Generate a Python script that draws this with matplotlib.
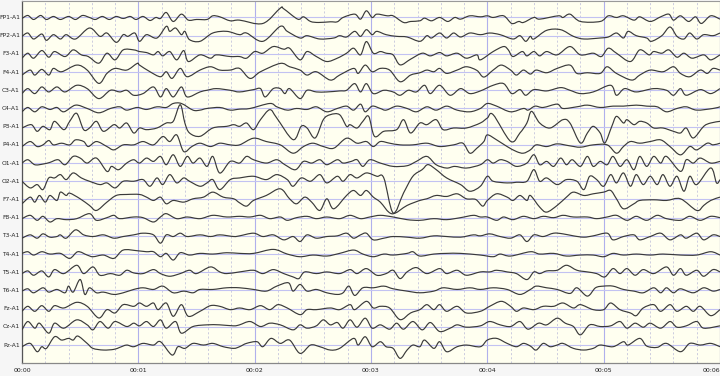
import numpy as np
import matplotlib.pyplot as plt
from matplotlib.path import Path
from matplotlib.patches import PathPatch

# EEG page, 19 referential channels, time in centiseconds, amplitude in trace units
channels = ["FP1-A1", "FP2-A1", "F3-A1", "F4-A1", "C3-A1", "C4-A1", "P3-A1", "P4-A1",
            "O1-A1", "O2-A1", "F7-A1", "F8-A1", "T3-A1", "T4-A1", "T5-A1", "T6-A1",
            "Fz-A1", "Cz-A1", "Pz-A1"]
second_ticks = [0, 100, 200, 300, 400, 500, 600]
second_labels = ["00:00", "00:01", "00:02", "00:03", "00:04", "00:05", "00:06"]

FP1 = [(0,-3),(5,6),(10,-6),(16,6),(21,-6),(27,3),(33,-6),(40,3),(46,-6),(52,6),(58,0),(63,-6),
       (69,3),(75,-6),(81,3),(87,-3),(93,3),(98,-6),(104,3),(110,-9),(115,0),(119,-3),(124,15),
       (130,-12),(137,10),(143,-8),(150,-6),(159,-6),(164,5),(170,2),(179,-10),(187,-8),(207,-18),
       (222,28),(225,26),(237,-5),(242,2),(248,-12),(255,-15),(265,-13),(271,-13),(276,0),(286,10),
       (291,-5),(296,20),(301,0),(305,10),(314,5),(319,5),(328,-15),(334,-12),(342,-10),(346,-2),
       (352,-10),(359,0),(366,-12),(372,0),(377,-5),(385,5),(394,2),(400,5),(405,0),(414,5),
       (421,-18),(427,-12),(431,-15),(440,0),(445,-5),(461,5),(465,0),(471,10),(480,-12),(497,-12),
       (504,5),(511,0),(517,5),(526,-8),(531,2),(540,-12),(549,2),(556,10),(560,-8),(566,5),
       (573,-12),(579,2),(584,-18),(592,5),(600,-5)]
FP2 = [(0,-2),(5,8),(10,-10),(17,5),(21,-14),(27,3),(33,-10),(38,3),(46,-10),(58,23),(67,-2),
       (73,8),(81,-20),(87,3),(91,-2),(97,8),(101,-17),(107,3),(116,-7),(124,28),(127,13),
       (132,23),(137,3),(140,13),(144,-12),(153,-17),(164,8),(176,13),(187,3),(193,8),(207,-17),
       (222,28),(228,13),(239,-7),(245,0),(256,-10),(268,-7),(273,0),(279,-4),(286,13),(291,-2),
       (296,18),(301,3),(305,13),(313,3),(322,-2),(331,-4),(342,-17),(348,0),(352,-7),(359,8),
       (365,-7),(371,8),(377,-4),(385,8),(394,3),(402,8),(411,3),(422,-10),(428,0),(433,-17),
       (437,-2),(440,-10),(451,16),(463,18),(474,-2),(483,-10),(497,-7),(504,-4),(511,8),
       (517,-7),(521,13),(528,0),(537,-7),(541,-17),(550,0),(557,26),(563,-2),(569,-10),(574,8),
       (580,-10),(586,3),(594,0),(600,8)]
F3 = [(0,-13),(5,2),(10,-13),(17,10),(23,-10),(28,7),(37,-8),(44,12),(51,-3),(57,-8),(66,-28),
      (73,2),(80,-18),(87,12),(96,12),(101,7),(107,4),(113,-3),(117,7),(121,-6),(127,7),(133,-18),
      (139,10),(143,-23),(153,-3),(162,-13),(167,-3),(179,-8),(187,-8),(193,-13),(200,7),(207,2),
      (216,22),(225,14),(230,17),(239,-18),(245,7),(253,-8),(262,-23),(271,-13),(279,2),(285,17),
      (291,-3),(296,37),(302,2),(308,7),(313,2),(319,-3),(325,-33),(334,-16),(344,2),(351,-6),
      (359,4),(365,-6),(374,2),(382,-13),(391,-3),(394,-18),(405,7),(414,22),(418,12),(422,-8),
      (430,7),(434,-6),(440,7),(445,-6),(451,7),(460,-3),(471,22),(480,-3),(491,2),(498,-8),
      (504,17),(511,2),(523,-23),(531,12),(539,-3),(543,7),(550,2),(556,12),(563,-10),(569,2),
      (576,-13),(586,-3),(592,-18),(600,-3)]
F4 = [(0,-9),(7,6),(11,-9),(17,8),(23,-9),(27,11),(34,1),(47,21),(56,6),(66,-34),(73,-4),(80,11),
      (90,6),(99,26),(101,21),(110,1),(119,-14),(124,1),(129,-19),(136,11),(142,-14),(153,6),
      (162,16),(170,6),(179,6),(187,11),(196,-19),(205,1),(222,26),(230,16),(239,6),(245,-9),
      (253,1),(265,-24),(273,-9),(285,11),(289,-4),(295,21),(301,1),(308,11),(316,6),(325,-29),
      (334,-9),(342,-2),(348,6),(354,1),(359,11),(365,-4),(374,6),(382,16),(391,5),(397,-15),
      (405,6),(412,21),(420,6),(425,-9),(431,6),(437,-6),(442,6),(451,-2),(460,11),(471,21),
      (477,-4),(486,-2),(497,-4),(503,16),(511,-4),(524,-24),(531,-9),(540,6),(551,1),(560,16),
      (566,-4),(574,-14),(583,6),(589,-4),(594,11),(600,6)]
C3 = [(0,-10),(5,5),(11,-10),(17,10),(23,-5),(30,10),(37,-5),(47,15),(56,5),(66,-25),(76,0),
      (84,-5),(90,0),(96,-15),(104,-10),(113,10),(119,-20),(124,5),(130,-20),(137,10),(142,-20),
      (153,-5),(159,0),(167,5),(179,0),(187,-5),(199,2),(205,5),(209,-20),(216,5),(222,5),
      (226,-10),(230,5),(239,-25),(245,0),(253,-5),(262,-5),(273,-2),(279,0),(286,20),(291,-5),
      (296,20),(302,-10),(311,0),(319,-5),(325,-15),(332,0),(339,-5),(346,15),(351,-10),(359,15),
      (368,-15),(377,5),(385,-10),(394,-2),(405,15),(414,20),(421,-10),(428,2),(433,-15),(440,2),
      (451,-2),(463,8),(471,0),(480,-10),(491,-5),(506,15),(511,-15),(518,5),(528,-5),(543,5),
      (554,0),(560,-15),(566,5),(571,-15),(583,2),(592,-10),(600,5)]
C4 = [(0,-10),(5,3),(11,-10),(17,5),(24,-3),(30,3),(36,-10),(46,10),(56,0),(66,-13),(76,0),
      (84,5),(90,-5),(99,3),(107,-3),(116,5),(124,3),(130,15),(137,15),(147,-5),(153,-5),(159,0),
      (170,3),(179,-5),(187,-2),(196,0),(213,15),(219,5),(228,-5),(236,0),(245,-3),(253,5),
      (262,-10),(271,0),(279,7),(285,-5),(291,13),(295,-10),(301,7),(308,0),(313,-5),(322,7),
      (331,0),(339,-10),(348,5),(356,-5),(365,7),(374,-5),(385,-10),(394,0),(400,15),(408,7),
      (420,-10),(431,0),(435,-5),(441,7),(448,3),(460,13),(465,0),(477,5),(486,10),(497,3),
      (508,7),(517,7),(528,10),(537,7),(546,5),(554,-10),(563,0),(571,5),(580,-5),(594,0),(600,5)]
P3 = [(0,-4),(8,6),(13,-14),(18,1),(24,-9),(28,16),(36,-9),(41,16),(47,40),(53,-9),(58,-4),
      (64,16),(70,-14),(79,6),(84,-4),(90,11),(96,-19),(101,-4),(107,-9),(116,-4),(124,11),
      (130,16),(136,66),(140,11),(144,-19),(153,-29),(164,-4),(176,1),(182,6),(187,1),(193,11),
      (199,-9),(205,21),(213,51),(219,26),(233,-39),(240,1),(245,-4),(252,-34),(259,21),(265,36),
      (273,36),(279,1),(282,6),(288,-4),(293,16),(298,31),(303,-29),(311,-14),(322,-9),(328,21),
      (334,-19),(342,11),(348,6),(356,21),(362,-9),(371,-4),(382,-4),(394,11),(400,26),(405,36),
      (420,-44),(428,-19),(434,11),(438,46),(445,11),(454,-4),(465,21),(471,11),(480,-49),
      (486,-19),(491,1),(497,-19),(501,-49),(507,1),(511,31),(517,11),(520,21),(526,6),(531,16),
      (537,11),(543,-4),(551,-4),(560,-14),(566,-19),(571,-4),(577,-34),(586,1),(592,11),(600,16)]
P4 = [(0,-5),(7,10),(13,-5),(18,0),(23,13),(27,0),(34,5),(41,0),(46,15),(53,10),(57,-5),(64,10),
      (73,-5),(79,-15),(87,0),(96,0),(104,10),(113,0),(121,25),(127,10),(133,30),(139,-20),
      (146,-5),(153,5),(162,-5),(170,5),(179,0),(187,0),(199,20),(210,10),(222,0),(233,-25),
      (242,-5),(250,5),(259,-5),(268,-10),(279,20),(288,5),(296,10),(302,-5),(308,10),(316,5),
      (325,0),(336,0),(348,5),(359,-5),(371,0),(379,5),(385,-25),(391,-10),(397,10),(400,30),
      (408,15),(417,-5),(425,-20),(431,-25),(437,-15),(442,0),(451,-5),(460,3),(471,-3),(480,-7),
      (491,0),(503,0),(511,-25),(517,-5),(523,10),(531,5),(540,10),(549,15),(557,-5),(566,-30),
      (574,-5),(580,-15),(589,5),(594,0),(600,5)]
O1 = [(0,0),(5,10),(11,-5),(18,-3),(24,2),(31,10),(37,-5),(44,20),(50,15),(56,0),(64,15),(73,-25),
      (77,-10),(83,-20),(90,0),(96,10),(101,0),(107,15),(113,5),(119,20),(124,-5),(130,25),
      (136,-10),(142,20),(147,0),(153,15),(159,-10),(164,20),(170,-30),(179,5),(187,0),(193,20),
      (199,10),(210,0),(219,10),(226,-5),(235,-20),(242,5),(249,0),(256,10),(262,-5),(271,10),
      (276,0),(283,5),(288,10),(293,-10),(299,10),(308,0),(319,-10),(331,-8),(339,5),(348,20),
      (356,-5),(365,-15),(372,-10),(382,-15),(394,-5),(400,10),(405,0),(411,10),(417,5),(425,-10),
      (434,0),(440,25),(445,-5),(451,5),(457,-10),(463,15),(468,-5),(473,10),(480,-10),(486,20),
      (491,-10),(497,5),(503,-5),(508,20),(514,-10),(520,10),(526,-20),(531,20),(537,-10),
      (543,20),(549,0),(554,20),(566,-25),(571,10),(577,0),(583,15),(592,0),(600,5)]
O2 = [(0,0),(7,-20),(13,-10),(18,-25),(23,10),(28,10),(33,20),(38,5),(44,25),(51,10),(58,0),
      (67,-10),(73,-5),(80,-20),(87,0),(96,0),(104,5),(110,-15),(116,10),(121,-10),(127,20),
      (133,-5),(139,10),(144,0),(153,-15),(159,-5),(164,5),(170,-25),(179,5),(187,10),(199,15),
      (210,5),(219,20),(228,5),(233,-15),(240,10),(248,0),(256,20),(262,-5),(271,15),(276,0),
      (282,20),(288,10),(296,25),(305,15),(311,10),(319,-95),(328,-35),(336,15),(344,35),(349,50),
      (356,35),(365,10),(377,-10),(385,-30),(394,-15),(400,15),(405,0),(417,-5),(425,-3),(434,0),
      (440,35),(445,0),(451,10),(460,-10),(468,5),(477,0),(483,-25),(488,15),(494,5),(500,-15),
      (506,20),(511,-5),(517,25),(523,-15),(528,20),(534,-10),(540,15),(546,-10),(551,20),
      (557,-15),(563,15),(569,-30),(574,15),(580,-10),(592,40),(597,-5),(600,5)]
F7 = [(0,-13),(7,7),(11,-8),(15,12),(20,-8),(24,12),(30,-3),(33,22),(38,12),(41,19),(50,2),
      (58,-18),(64,-33),(73,-8),(81,12),(90,15),(101,15),(107,7),(113,-3),(119,7),(124,-13),
      (130,-3),(139,-8),(147,2),(156,7),(164,22),(173,7),(182,2),(187,-10),(193,-20),(199,-3),
      (210,12),(222,32),(230,2),(236,-13),(243,7),(249,-8),(256,-33),(262,2),(268,-28),(279,12),
      (285,27),(291,12),(296,27),(302,7),(308,-8),(318,-43),(331,-18),(342,-3),(348,2),(356,12),
      (365,9),(374,17),(382,2),(390,0),(396,-20),(400,-3),(408,17),(417,7),(422,-3),(428,12),
      (434,-3),(437,12),(445,-23),(451,-38),(460,-18),(468,7),(474,22),(483,12),(491,17),(500,22),
      (506,27),(511,2),(517,-28),(526,-13),(531,-3),(543,-1),(554,-3),(566,2),(580,-33),(586,-18),
      (592,-3),(600,7)]
F8 = [(0,-3),(7,7),(13,-8),(18,4),(24,-13),(30,-3),(38,-6),(47,-3),(58,12),(64,-8),(73,0),(79,7),
      (84,-3),(96,2),(104,0),(113,-13),(119,2),(124,12),(133,-3),(142,2),(153,-3),(164,7),(176,2),
      (187,4),(196,2),(205,7),(213,-3),(222,2),(228,-8),(236,0),(245,4),(253,-3),(262,2),(273,-3),
      (282,7),(291,-3),(299,2),(308,7),(319,2),(331,-6),(342,-8),(354,-3),(365,-6),(377,0),
      (388,7),(394,2),(400,2),(408,-8),(414,2),(422,-6),(431,4),(440,-3),(448,4),(457,0),(465,7),
      (474,2),(486,2),(494,-3),(503,2),(511,7),(520,-8),(528,4),(537,-8),(546,7),(554,-3),
      (566,-8),(574,4),(583,-8),(592,4),(600,0)]
T3 = [(0,-7),(7,3),(13,-7),(18,6),(24,-4),(30,-2),(33,3),(38,-7),(46,18),(53,3),(61,-2),(70,3),
      (79,-7),(87,-2),(96,3),(104,8),(113,3),(119,-22),(124,3),(130,-2),(136,8),(142,-2),(153,3),
      (162,-2),(170,3),(182,-2),(187,0),(199,8),(207,-2),(216,3),(225,-12),(233,-2),(239,-17),
      (245,3),(253,-7),(262,-2),(271,0),(279,8),(285,-7),(291,3),(296,8),(302,-12),(311,-7),
      (319,-2),(331,-4),(342,-7),(354,0),(365,-2),(377,-4),(388,3),(394,0),(402,6),(411,-2),
      (420,-7),(428,3),(434,-17),(440,3),(448,-2),(457,8),(465,6),(474,0),(483,-4),(491,0),
      (503,8),(508,-12),(517,-2),(526,3),(531,-12),(540,-2),(549,8),(557,-12),(566,3),(571,-7),
      (580,8),(586,-12),(594,3),(600,-2)]
T4 = [(0,2),(5,7),(10,-3),(17,7),(24,0),(33,2),(41,-13),(48,7),(56,-3),(61,-8),(70,-3),(79,-13),
      (87,12),(99,10),(107,7),(113,7),(119,-8),(124,2),(130,-18),(136,4),(144,-3),(153,2),(164,0),
      (176,4),(187,2),(199,2),(216,14),(228,0),(239,-8),(250,-3),(262,-6),(273,2),(285,12),
      (293,0),(302,-8),(311,0),(319,-3),(331,2),(336,7),(342,-6),(354,0),(365,2),(377,2),
      (394,-3),(405,-8),(411,0),(420,-6),(437,7),(445,0),(457,2),(468,-6),(480,-3),(491,-3),
      (500,-8),(508,2),(517,-3),(528,0),(540,-3),(551,0),(566,-3),(580,-3),(592,7),(600,-3)]
T5 = [(0,-4),(5,4),(10,-9),(17,4),(23,-14),(28,8),(36,-4),(47,21),(53,-4),(61,16),(67,-9),
      (76,-4),(84,-9),(90,6),(96,-2),(104,-4),(113,8),(119,-4),(127,-12),(136,-4),(144,6),
      (150,-4),(162,16),(170,1),(176,-4),(187,1),(199,6),(207,-4),(216,8),(225,-4),(233,-14),
      (238,-19),(243,1),(253,-4),(262,1),(273,-4),(282,8),(288,-4),(296,11),(305,-9),(313,-4),
      (319,6),(325,-19),(331,1),(339,14),(348,-4),(359,11),(365,-4),(374,6),(382,-9),(394,1),
      (402,1),(408,6),(417,1),(425,-4),(434,-22),(440,1),(445,-4),(451,4),(460,6),(468,21),
      (477,6),(486,1),(494,-4),(501,-14),(508,11),(514,-4),(520,11),(527,-9),(534,8),(543,-4),
      (554,16),(560,-9),(566,11),(571,-9),(580,6),(586,-12),(594,8),(600,1)]
T6 = [(0,-2),(5,5),(10,-7),(18,8),(23,-5),(30,3),(37,-7),(40,13),(44,-5),(50,33),(54,-12),(58,8),
      (64,-7),(70,-5),(79,-12),(87,-7),(96,3),(104,8),(113,3),(121,13),(130,-7),(139,-2),(147,-7),
      (153,3),(164,3),(176,8),(187,8),(199,3),(210,-2),(219,13),(229,23),(233,-2),(239,18),
      (245,-2),(253,3),(262,-7),(271,-12),(276,-7),(281,13),(286,-15),(293,8),(302,8),(311,13),
      (319,5),(331,-2),(342,-7),(354,-2),(362,8),(374,3),(385,8),(394,3),(405,8),(417,3),
      (428,-12),(437,3),(442,13),(451,8),(460,3),(471,-9),(477,8),(486,-17),(493,8),(500,13),
      (508,13),(517,3),(526,-2),(534,-7),(543,8),(549,-7),(554,8),(560,-7),(566,5),(577,-7),
      (586,8),(594,-2),(600,3)]
Fz = [(0,-8),(5,7),(11,-8),(17,9),(23,-8),(28,9),(36,2),(47,19),(56,7),(66,-28),(73,-3),(80,-13),
      (87,12),(96,7),(101,17),(107,7),(113,17),(117,-3),(124,17),(130,-23),(137,12),(143,-23),
      (153,-8),(162,9),(170,7),(179,-3),(187,2),(196,-3),(205,9),(213,-3),(220,12),(228,2),
      (239,-18),(245,-3),(253,-3),(265,2),(273,-3),(282,12),(286,-3),(296,22),(302,2),(308,7),
      (316,2),(325,-33),(334,-13),(342,-3),(348,12),(354,-3),(359,12),(365,-8),(374,7),(382,-13),
      (394,-8),(402,7),(412,22),(420,7),(425,-8),(431,2),(440,-3),(448,7),(457,7),(465,17),
      (474,2),(480,12),(491,-3),(500,-3),(506,17),(514,-3),(523,-13),(528,-21),(534,2),(543,12),
      (549,-8),(557,12),(563,-8),(571,7),(577,-8),(583,7),(592,-21),(600,-3)]
Cz = [(0,-9),(5,16),(11,-4),(15,11),(23,-19),(28,11),(36,-4),(47,21),(56,6),(61,-9),(67,16),
      (74,-4),(80,16),(90,1),(96,11),(101,3),(107,16),(113,1),(119,21),(124,-4),(132,16),(137,-19),
      (147,1),(159,6),(170,6),(182,3),(187,6),(196,16),(205,1),(213,11),(222,6),(233,-9),(239,6),
      (245,-4),(253,3),(259,21),(265,6),(271,13),(276,-4),(282,21),(288,-1),(295,26),(301,-4),
      (308,6),(316,-7),(322,11),(328,-7),(336,16),(344,-9),(351,13),(359,-14),(368,-4),(374,6),
      (382,-1),(394,3),(402,16),(411,6),(420,1),(428,16),(435,-7),(444,11),(451,6),(460,26),
      (467,11),(474,1),(480,-24),(488,6),(497,1),(506,3),(514,16),(520,-4),(527,11),(534,-1),
      (540,11),(549,-4),(557,16),(563,-1),(571,3),(580,16),(586,-4),(600,3)]
Pz = [(0,-5),(7,5),(13,-20),(17,-5),(21,-10),(28,25),(34,15),(40,20),(44,15),(48,27),(56,5),
      (61,-10),(70,-15),(79,-13),(84,-7),(90,0),(96,-5),(104,5),(113,0),(119,10),(129,-30),
      (134,-5),(140,-10),(147,5),(156,0),(164,5),(173,-5),(182,-10),(187,-5),(193,5),(202,10),
      (207,-5),(214,20),(222,5),(230,15),(239,-25),(248,0),(256,-5),(265,-15),(273,-10),(285,20),
      (289,0),(295,25),(301,-5),(308,10),(313,-5),(319,-10),(325,-40),(331,-15),(336,0),(342,-5),
      (346,15),(354,-10),(359,10),(365,-20),(374,-5),(382,0),(394,-5),(400,15),(408,20),(417,5),
      (425,-5),(431,5),(437,-3),(442,-15),(448,5),(454,-5),(460,0),(465,5),(474,-10),(483,-15),
      (491,-10),(497,0),(508,-5),(517,10),(521,0),(531,20),(537,-3),(546,-7),(554,5),(566,-20),
      (574,5),(583,0),(592,5),(600,-5)]

traces = [FP1, FP2, F3, F4, C3, C4, P3, P4, O1, O2, F7, F8, T3, T4, T5, T6, Fz, Cz, Pz]
spacing = 54.67


def smooth_path(t, y):
    # cubic Bezier pieces through every sample (Catmull-Rom tangents)
    pts = np.column_stack([t, y])
    ext = np.vstack([pts[0], pts, pts[-1]])
    verts = [pts[0]]
    codes = [Path.MOVETO]
    for k in range(1, len(ext) - 2):
        p0, p1, p2, p3 = ext[k - 1], ext[k], ext[k + 1], ext[k + 2]
        verts += [p1 + (p2 - p0) / 6, p2 - (p3 - p1) / 6, p2]
        codes += [Path.CURVE4] * 3
    return Path(verts, codes)


fig = plt.figure(figsize=(7.2, 3.76), dpi=100, facecolor="#f6f6f6")
ax = fig.add_axes([22 / 720, 13 / 376, 698 / 720, 362.5 / 376])
ax.set_facecolor("#fffff0")

# 0.2 s dashed grid and 1 s solid grid
for t in range(0, 601, 20):
    if t % 100 == 0:
        ax.axvline(t, color="#b0b0ec", lw=0.8, zorder=1)
    else:
        ax.axvline(t, color="#c4c4dc", lw=0.6, ls=(0, (2.5, 2.5)), zorder=1)

for i, (name, tr) in enumerate(zip(channels, traces)):
    t, v = np.array(tr, dtype=float).T
    base = -i * spacing
    ax.axhline(base, color="#c2c2f2", lw=0.8, zorder=1)
    ax.add_patch(PathPatch(smooth_path(t, base + v), fill=False, edgecolor="#3a3a3a",
                           lw=0.85, zorder=3, joinstyle="round"))
    ax.text(-0.003, base, name, transform=ax.get_yaxis_transform(),
            ha="right", va="center", fontsize=4.3, color="#222222")

ax.set_xlim(0, 600)
ax.set_ylim(-1038, 51)
ax.set_xticks(second_ticks)
ax.set_xticklabels(second_labels, fontsize=4.5, color="#222222")
ax.get_xticklabels()[-1].set_horizontalalignment("right")
ax.set_yticks([])
ax.tick_params(axis="x", length=0, pad=3.5)
for side in ["top", "right"]:
    ax.spines[side].set_color("#9a9a9a")
    ax.spines[side].set_linewidth(0.8)
ax.spines["left"].set_color("#555555")
ax.spines["bottom"].set_color("#888888")
ax.spines["left"].set_linewidth(0.9)
ax.spines["bottom"].set_linewidth(0.9)

fig.savefig("out.png", dpi=100, facecolor=fig.get_facecolor())
